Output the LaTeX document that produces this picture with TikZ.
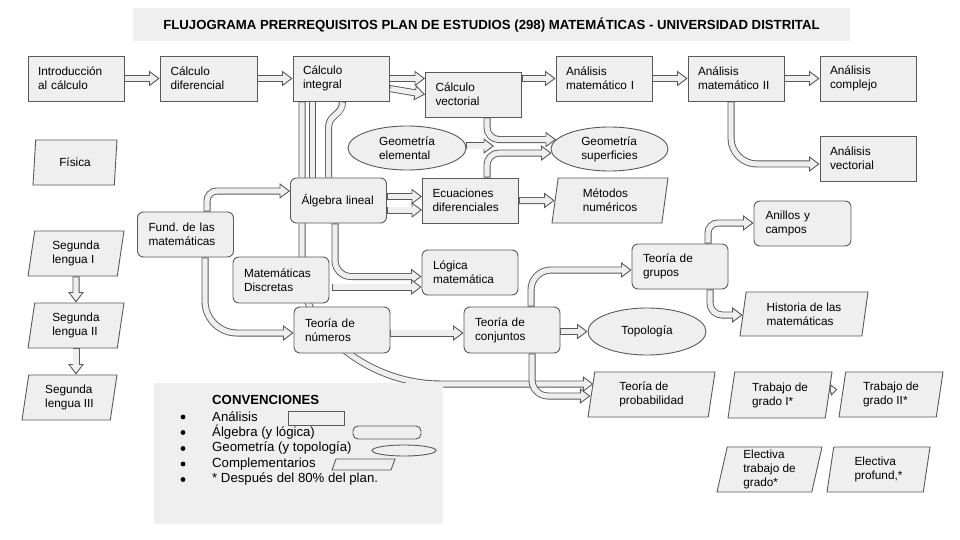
\documentclass[tikz,border=0pt]{standalone}
\usepackage{fontspec}
\setmainfont{Liberation Sans}
\usepackage{tikz}
\usetikzlibrary{calc,arrows.meta,shapes.geometric,backgrounds}
\definecolor{boxfill}{HTML}{EFEFEF}
\definecolor{boxline}{HTML}{595959}
\newcommand{\flowfont}{\fontsize{11.8}{14}\selectfont}
\newcommand{\titlefont}{\fontsize{13.2}{16}\selectfont\bfseries}
\newcommand{\convfont}{\fontsize{13.2}{16}\selectfont}
\tikzset{
    ana/.style={rectangle, draw=boxline, fill=boxfill, line width=0.9pt,   % analisis
                minimum width=96pt, minimum height=45pt, text width=76pt,
                inner xsep=10pt, align=left, font=\flowfont},
    alg/.style={ana, rounded corners=6pt, text width=74pt, inner xsep=11pt}, % algebra y logica
    geo/.style={ellipse, draw=boxline, fill=boxfill, line width=0.9pt,     % geometria
                minimum width=118pt, minimum height=44pt, inner sep=0pt,
                align=left, font=\flowfont},
    comp/.style={trapezium, trapezium left angle=76, trapezium right angle=104, % complementarios
                 trapezium stretches body, draw=boxline, fill=boxfill,
                 line width=0.9pt, minimum width=#1, minimum height=45pt,
                 inner xsep=2pt, inner ysep=1pt, align=left, font=\flowfont},
    comp/.default=96pt,
    pipe/.style={draw=boxline, line width=7pt,                             % flecha hueca
                 -{Triangle[length=10.5pt,width=15.5pt,line width=0.9pt,fill=boxfill]},
                 postaction={draw=boxfill, line width=5.2pt, -, shorten >=6.5pt, shorten <=0.9pt}},
    minipipe/.style={draw=boxline, line width=5.8pt,
                 -{Triangle[length=7pt,width=12pt,line width=0.9pt,fill=boxfill]},
                 postaction={draw=boxfill, line width=4pt, -, shorten >=4pt, shorten <=0.9pt}},
    pipeplain/.style={draw=boxline, line width=7pt,                        % sin punta
                 postaction={draw=boxfill, line width=5.2pt, shorten <=0.9pt}},
}

\begin{document}
\begin{tikzpicture}[x=1pt,y=-1pt]
        \useasboundingbox (0,0) rectangle (960,540);

        \fill[boxfill] (133,8) rectangle (850,41);
        \node[font=\titlefont] (title) at (491.5,25) {FLUJOGRAMA PRERREQUISITOS PLAN DE ESTUDIOS (298) MATEMÁTICAS - UNIVERSIDAD DISTRITAL};

        \node[ana] (intro) at (76,78.5) {Introducción\\al cálculo};
        \node[ana, minimum width=97pt] (cdif) at (208.5,78.5) {Cálculo\\diferencial};
        \node[ana] (cint) at (341,78.5) {Cálculo\\integral};
        \node[ana, minimum width=95pt] (cvec) at (473.5,94.5) {Cálculo\\vectorial};
        \node[ana] (am1) at (604,78.5) {Análisis\\matemático I};
        \node[ana] (am2) at (736,78.5) {Análisis\\matemático II};
        \node[ana] (acom) at (868,78.5) {Análisis\\complejo};
        \node[ana] (avec) at (868,158.5) {Análisis\\vectorial};
        \node[ana, minimum width=95pt] (ecdif) at (470.5,200.5) {Ecuaciones\\diferenciales};

        \node[alg, minimum width=95pt] (alin) at (338.5,200.5) {Álgebra lineal};
        \node[alg, minimum width=95pt] (fund) at (185.5,234.5) {Fund.\ de las\\matemáticas};
        \node[alg, minimum height=46pt] (mdis) at (281,280) {Matemáticas\\Discretas};
        \node[alg] (logm) at (470,272.5) {Lógica\\matemática};
        \node[alg, minimum height=46pt] (tnum) at (342,330) {Teoría de\\números};
        \node[alg, minimum height=46pt] (tcon) at (512,330) {Teoría de\\conjuntos};
        \node[alg] (tgru) at (680,266.5) {Teoría de\\grupos};
        \node[alg, minimum width=97pt] (anil) at (802.5,223.5) {Anillos y\\campos};

        \node[geo] (geoe) at (407,148) {Geometría\\elemental};
        \node[geo, minimum width=117pt] (geos) at (609.5,149) {Geometría\\superficies};
        \node[geo, minimum height=47pt] (topo) at (647,331.5) {Topología};

        \node[comp=84pt] (fis) at (75,162.5) {Física};
        \node[comp] (sl1) at (76,253.5) {Segunda\\lengua I};
        \node[comp] (sl2) at (76,325.5) {Segunda\\lengua II};
        \node[comp=95pt] (sl3) at (69.5,397.5) {Segunda\\lengua III};
        \node[comp=116pt] (metn) at (610,200.5) {Métodos\\numéricos};
        \node[comp=128pt, minimum height=44pt] (hist) at (804,314) {Historia de las\\matemáticas};
        \node[comp=127pt] (tprob) at (651.5,394.5) {Teoría de\\probabilidad};
        \node[comp=104pt, minimum height=46pt] (tg1) at (780,395) {Trabajo de\\grado I*};
        \node[comp=104pt] (tg2) at (891,394.5) {Trabajo de\\grado II*};
        \node[comp=105pt] (etg) at (769.5,469.5) {Electiva\\trabajo de\\grado*};
        \node[comp=103pt] (eprof) at (878.5,469.5) {Electiva\\profund,*};

        \coordinate (geojoin) at (494,146);

        \begin{scope}[on background layer]
            \draw[pipe] (intro) -- (cdif);
            \draw[pipe] (cdif) -- (cint);
            \draw[pipe] (cint.east) -- (cint.east -| cvec.west);
            \draw[pipe] ($(cint.east)+(0,10)$) -- (cvec.west);
            \draw[pipe] (cvec.east |- am1.west) -- (am1.west);
            \draw[pipe] (am1) -- (am2);
            \draw[pipe] (am2) -- (acom);
            \draw[pipe, rounded corners=26pt] ($(am2.south)+(-5,0)$) |- ($(avec.west)+(0,5.5)$);

            \draw[pipe, rounded corners=12pt] ($(cvec.south)+(13.5,0)$) |- (geos.170);
            \draw[pipe, rounded corners=12pt] ($(ecdif.north)+(16.5,0)$) |- (geos.184);
            \draw[pipe] (geoe.east |- geojoin) -- (geojoin);

            \draw[pipe] ($(cint.south)+(-39,0)$) -- ++(0,170) .. controls +(0,60) and +(-70,0) .. (440,384) -- ($(tprob.west)+(2.5,-10.5)$);
            \draw[pipeplain] ($(cint.south)+(-28.5,0)$) -- ($(alin.north)+(-26,0)$);
            \draw[pipeplain] ($(cint.south)+(1.5,0)$) .. controls +(0,14) and +(0,-14) .. (328.5,128) -- ($(alin.north)+(-10,0)$);

            \draw[pipe, rounded corners=10pt] ($(fund.north)+(21.5,0)$) |- ($(alin.west)+(0,-9.5)$);
            \draw[pipe, rounded corners=32pt] ($(fund.south)+(19.5,0)$) |- ($(tnum.west)+(0,3)$);

            \draw[pipe] ($(alin.east)+(0,-4)$) -- ($(ecdif.west)+(0,-4)$);
            \draw[pipe] ($(alin.east)+(0,9.5)$) -- ($(ecdif.west)+(0,9.5)$);
            \draw[pipe] (ecdif) -- (metn);
            \draw[pipe, rounded corners=16pt] ($(alin.south)+(-3.5,0)$) |- ($(logm.west)+(0,4)$);
            \draw[pipe] ($(mdis.east)+(3,7)$) -- ($(logm.west)+(0,14.5)$);

            \draw[pipe] ($(tnum.east)+(0,3)$) -- ($(tcon.west)+(0,3)$);
            \draw[pipe] (tcon.east |- topo.west) -- (topo.west);
            \draw[pipe, rounded corners=20pt] ($(tcon.north)+(19,0)$) |- ($(tgru.west)+(0,3.5)$);
            \draw[pipe, rounded corners=16pt] ($(tcon.south)+(20,0)$) |- ($(tprob.west)+(-0.5,1.5)$);
            \draw[pipe, rounded corners=10pt] ($(tgru.north)+(28,0)$) |- ($(anil.west)+(0,-0.5)$);
            \draw[pipe, rounded corners=12pt] ($(tgru.south)+(30,0)$) |- ($(hist.west)+(0,1)$);

            \draw[pipe] (sl1) -- (sl2);
            \draw[pipe] (sl2.south) -- (sl2.south |- sl3.north);
            \draw[minipipe] ($(tg1.east)+(1,-5)$) -- ($(tg2.west)+(-4.5,-5)$);
        \end{scope}

        \fill[boxfill] (154,383) rectangle (443,524);
        \node[font=\convfont\bfseries, anchor=west, inner sep=0pt] (conv) at (212,400) {CONVENCIONES};
        \node[font=\convfont, anchor=west, inner sep=0pt] (lana) at (212,417) {Análisis};
        \node[font=\convfont, anchor=west, inner sep=0pt] (lalg) at (212,432.5) {Álgebra (y lógica)};
        \node[font=\convfont, anchor=west, inner sep=0pt] (lgeo) at (212,448.5) {Geometría (y topología)};
        \node[font=\convfont, anchor=west, inner sep=0pt] (lcomp) at (212,464) {Complementarios};
        \node[font=\convfont, anchor=west, inner sep=0pt] (lnota) at (212,479.5) {* Después del 80\% del plan.};

        \foreach \y in {417,432.5,448.5,464,479.5}
        {
            \fill (183,\y) circle (2.4pt);
        }
        \draw[draw=boxline, fill=boxfill, line width=0.9pt] (288,411) rectangle (344,425);
        \draw[draw=boxline, fill=boxfill, line width=0.9pt, rounded corners=5pt] (353,426) rectangle (421,439);
        \draw[draw=boxline, fill=boxfill, line width=0.9pt] (404,450.5) ellipse (32pt and 5.5pt);
        \draw[draw=boxline, fill=boxfill, line width=0.9pt] (336,459) -- (395,459) -- (391,470) -- (332,470) -- cycle;
\end{tikzpicture}
\end{document}
